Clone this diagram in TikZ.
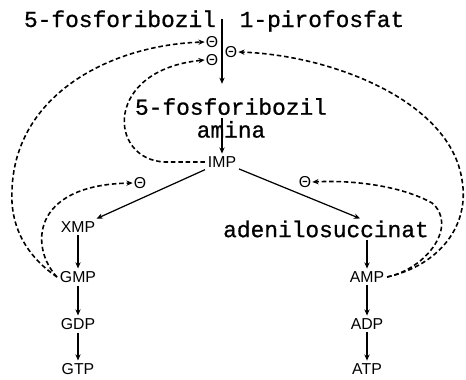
\documentclass[tikz,border=0pt]{standalone}
\usepackage{fontspec}
\setmainfont{Liberation Sans}
\setmonofont[BoldFont={Liberation Mono}, BoldFeatures={FakeBold=0.8}]{Liberation Mono}
\usetikzlibrary{arrows.meta, calc}

\begin{document}
\begin{tikzpicture}[x=0.02cm, y=-0.02cm,
  mono/.style={font=\fontsize{13}{13}\selectfont\ttfamily\bfseries, inner sep=1pt},
  nuc/.style={font=\fontsize{9}{9}\selectfont, inner sep=1.5pt},
  inh/.style={font=\fontsize{9}{9}\selectfont, inner sep=0.5pt},
  conv/.style={-{Stealth[length=3.5pt, width=3pt]}, line width=0.7pt},
  feedback/.style={-{Stealth[length=3.5pt, width=3pt]}, line width=0.9pt, dash pattern=on 2.6pt off 1.6pt}]

  \useasboundingbox (0,0) rectangle (466,379);

  % Starting compound and common path
  \node[mono, anchor=base] (prppa) at (120,27) {5-fosforibozil};
  \node[mono, anchor=base] (prppb) at (322,27) {1-pirofosfat};
  \coordinate (prpp) at (222,19);
  \node[mono, align=center] (fra) at (231,118) {5-fosforibozil\\amina};
  \node[nuc] (imp) at (222,162) {IMP};

  % Guanine branch
  \node[nuc] (xmp) at (78,227) {XMP};
  \node[nuc] (gmp) at (78,277) {GMP};
  \node[nuc] (gdp) at (78,324) {GDP};
  \node[nuc] (gtp) at (78,369) {GTP};

  % Adenine branch
  \node[mono] (ade) at (326,229) {adenilosuccinat};
  \node[nuc] (amp) at (367,277) {AMP};
  \node[nuc] (adp) at (367,324) {ADP};
  \node[nuc] (atp) at (367,369) {ATP};

  % Inhibition marks
  \node[inh] (th1) at (212,42) {Θ};
  \node[inh] (th2) at (212,60) {Θ};
  \node[inh] (th3) at (231,52) {Θ};
  \node[inh] (th4) at (140,183) {Θ};
  \node[inh] (th5) at (305,182) {Θ};

  % Conversions
  \draw[conv, shorten >=7pt] (prpp) -- (prpp |- fra.north);
  \draw[conv] (fra.center -| imp) -- (imp);
  \draw[conv] (imp) -- (xmp);
  \draw[conv] (imp) -- ($(ade.north)+(34,0)$);
  \draw[conv] (xmp) -- (gmp);
  \draw[conv] (gmp) -- (gdp);
  \draw[conv] (gdp) -- (gtp);
  \draw[conv] (amp |- ade.south) -- (amp);
  \draw[conv] (amp) -- (adp);
  \draw[conv] (adp) -- (atp);

  % Feedback from IMP
  \draw[feedback] (imp.west) -- (165,162) .. controls (108,160) and (103,70) .. (th2.west);

  % Feedback from GMP
  \draw[feedback] (gmp.west) .. controls (25,255) and (10,225) .. (12,190)
    .. controls (15,95) and (110,45) .. (th1.west);
  \draw[feedback] (gmp.west) .. controls (30,248) and (30,185) .. (th4.west);

  % Feedback from AMP
  \draw[feedback] (amp.east) .. controls (440,265) and (470,225) .. (462,180)
    .. controls (450,100) and (330,55) .. (th3.east);
  \draw[feedback] (amp.east) .. controls (428,268) and (458,225) .. (432,203)
    .. controls (400,185) and (350,180) .. (th5.east);
\end{tikzpicture}
\end{document}
